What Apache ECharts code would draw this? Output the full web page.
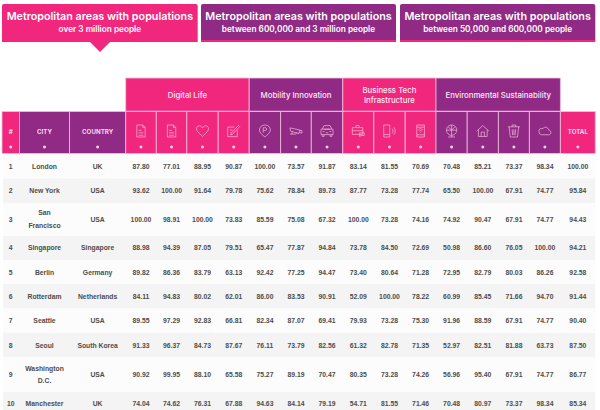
<!DOCTYPE html>
<html><head><meta charset="utf-8">
<style>html,body{margin:0;padding:0;background:#fff}#c{width:600px;height:410px}</style>
<script src="https://cdn.jsdelivr.net/npm/echarts@6/dist/echarts.min.js"></script>
</head><body><div id="c"></div>
<script>
// ---------- values ----------
const cities = ['London','New York','San\nFrancisco','Singapore','Berlin','Rotterdam','Seattle','Seoul','Washington\nD.C.','Manchester'];
const countries = ['UK','USA','USA','Singapore','Germany','Netherlands','USA','South Korea','USA','UK'];
const row1 = ['87.80','77.01','88.95','90.87','100.00','73.57','91.87','83.14','81.55','70.69','70.48','85.21','73.37','98.34','100.00'];
const row2 = ['93.62','100.00','91.64','79.78','75.62','78.84','89.73','87.77','73.28','77.74','65.50','100.00','67.91','74.77','95.84'];
const row3 = ['100.00','98.91','100.00','73.83','85.59','75.08','67.32','100.00','73.28','74.16','74.92','90.47','67.91','74.77','94.43'];
const row4 = ['88.98','94.39','87.05','79.51','65.47','77.87','94.84','73.78','84.50','72.69','50.98','86.60','76.05','100.00','94.21'];
const row5 = ['89.82','86.36','83.79','63.13','92.42','77.25','94.47','73.40','80.64','71.28','72.95','82.79','80.03','86.26','92.58'];
const row6 = ['84.11','94.83','80.02','62.01','86.00','83.53','90.91','52.09','100.00','78.22','60.99','85.45','71.66','94.70','91.44'];
const row7 = ['89.55','97.29','92.83','66.81','82.34','87.07','69.41','79.93','73.28','75.30','91.96','88.59','67.91','74.77','90.40'];
const row8 = ['91.33','96.37','84.73','87.67','76.11','73.79','82.56','61.32','82.78','71.35','52.97','82.51','81.88','63.73','87.50'];
const row9 = ['90.92','99.95','88.10','65.58','75.27','89.19','70.47','80.35','73.28','74.26','56.96','95.40','67.91','74.77','86.77'];
const row10 = ['74.04','74.62','76.31','67.88','94.63','84.14','79.19','54.71','81.55','71.46','70.48','80.97','73.37','98.34','85.34'];
const rows = [row1,row2,row3,row4,row5,row6,row7,row8,row9,row10];
const tabTitle = 'Metropolitan areas with populations';
const tabSubs = ['over 3 million people','between 600,000 and 3 million people','between 50,000 and 600,000 people'];
const groups = ['Digital Life','Mobility Innovation','Business Tech\nInfrastructure','Environmental Sustainability'];
const leadHeads = ['#','CITY','COUNTRY'];
const totalHead = 'TOTAL';

// ---------- layout and style ----------
const PINK='#f1277d', PURPLE='#902a84', LINE='#f0c0dc';
const colX=[2,19.5,69.5,125.7,156.3,186.8,218.2,249.2,280.6,311.3,342.8,373.8,405.2,436,467.2,498.4,529.4,560.4,595.3];
const rowY=[154,178.5,203,236,260,284,308.5,333,357,392,416];
const rowMid=[166,190.5,219,247.7,272,296.7,320.7,345.3,374.7,403];
const tabX=[[2,197.7],[201,396],[400,595.3]];
const groupCols=[[3,7],[7,10],[10,13],[13,17]];
const colFill=i=>(i===0||(i>=3&&i<7)||(i>=10&&i<13)||i===17)?PINK:PURPLE;
const icons=[
 'M5 1H15L19 5V21H5Z M15 1V5H19 M8 10H13 M8 14H16 M8 18H16',
 'M5 1H15L19 5V21H5Z M15 1V5H19 M8 10H13 M8 14H16 M8 18H16',
 'M12 21C5 15 1 11 1 7C1 3 5 1 8 2C10 3 11 4 12 6C13 4 14 3 16 2C19 1 23 3 23 7C23 11 19 15 12 21Z',
 'M3 5H14 M3 5V21H19V10 M9 15L21 2L23 4L11 17L8 18Z M7 10H11 M7 14H8',
 'M12 1C6 1 2 5 2 10C2 16 8 19 12 23C16 19 22 16 22 10C22 5 18 1 12 1Z M9 15V6H13C16 6 16 11 13 11H9',
 'M1 4L20 8L18 15L2 10Z M20 9L24 9V14L19 13 M5 11V16H1 M5 16H12L14 13',
 'M4 9L7 3H17L20 9 M2 9H22V18H2Z M4 18V21H7V18 M17 18V21H20V18 M5 13H8 M16 13H19 M10 15H14 M7 9H17',
 'M1 7H21V20H1Z M8 7V3H14V7 M1 13H21 M15 17H24V22H18L15 24Z',
 'M3 2H13V22H3Z M3 18H13 M17 8C19 10 19 14 17 16 M20 6C23 10 23 14 20 18',
 'M4 1H18V23H4Z M4 5H18 M4 19H18 M7 10C10 7 12 7 15 10 M9 12C10 11 12 11 13 12 M11 14V15',
 'M12 2A9 9 0 1 0 12.01 2 M12 2V20 M3 11H21 M12 11L6 5 M12 11L18 5 M12 20V23 M6 23H18',
 'M1 12L12 2L23 12 M4 10V22H20V10 M9 22V14H15V22',
 'M2 5H22 M9 5V2H15V5 M4 5L6 22H18L20 5 M9 9L10 19 M12 9V19 M15 9L14 19',
 'M6 19H19C24 19 24 11 19 11C18 6 12 4 9 8C4 7 1 10 2 14C2 17 4 19 6 19Z'
];
const HEAD_FONT='"Inter","Noto Sans",sans-serif';
const BODY_FONT='"Liberation Sans",Arial,sans-serif';

// ---------- item builders ----------
const textEl=(api,x,y,t,size,weight,fill,lh)=>{const p=api.coord([x,y]);return {type:'text',x:p[0],y:p[1],style:{text:t,fontSize:size,fontWeight:weight,fontFamily:HEAD_FONT,fill:fill,align:'center',verticalAlign:'middle',lineHeight:lh||size*1.3}}};
const rectEl=(api,x0,y0,x1,y1,fill,stroke)=>{const a=api.coord([x0,y0]),b=api.coord([x1,y1]);return {type:'rect',shape:{x:a[0],y:a[1],width:b[0]-a[0],height:b[1]-a[1]},style:{fill:fill,stroke:stroke||null,lineWidth:stroke?0.8:0}}};

function renderBands(p,api){
  const i=api.value(0);
  return rectEl(api,3,rowY[i],595.3,rowY[i+1],i%2?'#f4f4f4':'#fcfcfc');
}
function renderCells(p,api){
  const r=api.value(0),c=api.value(1);
  const t=cellData[p.dataIndex][2];
  const q=api.coord([(colX[c]+colX[c+1])/2,rowMid[r]]);
  return {type:'text',x:q[0],y:q[1],style:{text:t,fontSize:6.8,fontWeight:'bold',fontFamily:BODY_FONT,fill:'#4d4d4d',align:'center',verticalAlign:'middle',lineHeight:12.5}};
}
function renderTabs(p,api){
  const i=api.value(0),x=tabX[i],mid=(x[0]+x[1])/2,kids=[];
  const box=rectEl(api,x[0],4,x[1],40,i===0?PINK:PURPLE);
  box.shape.r=[2,2,0,0];
  kids.push(box);
  kids.push(rectEl(api,x[0],40,x[1],42,PINK));
  if(i===0){
    const a=api.coord([90,42]),b=api.coord([110,42]),c=api.coord([100,52]);
    kids.push({type:'polygon',shape:{points:[a,b,c]},style:{fill:PINK}});
  }
  kids.push(textEl(api,mid,16,tabTitle,10.75,600,'#fff'));
  kids.push(textEl(api,mid,29,tabSubs[i],8.25,600,'#fff'));
  return {type:'group',children:kids};
}
function renderGroups(p,api){
  const i=api.value(0),g=groupCols[i];
  return {type:'group',children:[
    rectEl(api,colX[g[0]],78,colX[g[1]],111.2,i%2?PURPLE:PINK,LINE),
    textEl(api,(colX[g[0]]+colX[g[1]])/2,95,groups[i],7.8,500,'#fdeaf4',9.5)
  ]};
}
function renderHeads(p,api){
  const c=api.value(0),mid=(colX[c]+colX[c+1])/2;
  const kids=[rectEl(api,colX[c],111.5,colX[c+1],153.5,colFill(c),LINE)];
  const dot=api.coord([mid,147]);
  kids.push({type:'circle',shape:{cx:dot[0],cy:dot[1],r:1.5},style:{fill:'#f4cfe6'}});
  if(c<3) kids.push(textEl(api,mid,131,leadHeads[c],6.2,700,'#f6d9ea'));
  else if(c===17) kids.push(textEl(api,mid,131,totalHead,6.2,700,'#f6d9ea'));
  else {
    const tl=api.coord([mid-6,125]), br=api.coord([mid+6,137]);
    kids.push({type:'path',shape:{pathData:icons[c-3],layout:'center',x:tl[0],y:tl[1],width:br[0]-tl[0],height:br[1]-tl[1]},style:{fill:'none',stroke:'#f3bcdb',lineWidth:0.7}});
  }
  return {type:'group',children:kids};
}

// ---------- data tables for the library ----------
const cellData=[];
rows.forEach((vals,r)=>{
  cellData.push([r,0,String(r+1)]);
  cellData.push([r,1,cities[r]]);
  cellData.push([r,2,countries[r]]);
  vals.forEach((v,j)=>cellData.push([r,3+j,v]));
});
const enc={x:-1,y:-1};
const base={type:'custom',coordinateSystem:'cartesian2d',encode:enc,silent:true,clip:false,animation:false};
const chart=echarts.init(document.getElementById('c'),null,{renderer:'svg'});
chart.setOption({
  animation:false,backgroundColor:'#fff',
  grid:{left:0,top:0,right:0,bottom:0},
  xAxis:{type:'value',min:0,max:600,show:false},
  yAxis:{type:'value',min:0,max:410,inverse:true,show:false},
  series:[
    Object.assign({},base,{name:'bands',data:rows.map((_,i)=>[i]),renderItem:renderBands,z:1}),
    Object.assign({},base,{name:'cells',data:cellData,renderItem:renderCells,z:2}),
    Object.assign({},base,{name:'tabs',data:[[0],[1],[2]],renderItem:renderTabs,z:3}),
    Object.assign({},base,{name:'groups',data:groups.map((_,i)=>[i]),renderItem:renderGroups,z:3}),
    Object.assign({},base,{name:'heads',data:colX.slice(0,-1).map((_,i)=>[i]),renderItem:renderHeads,z:3})
  ]
});
</script></body></html>
